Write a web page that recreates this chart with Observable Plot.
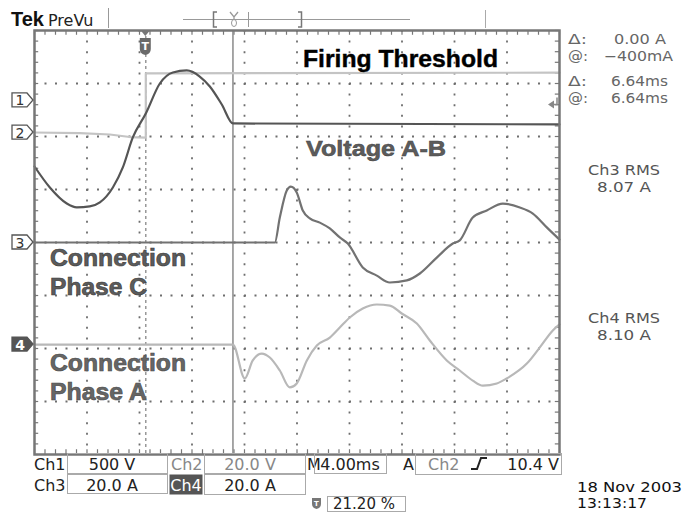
<!DOCTYPE html>
<html><head><meta charset="utf-8">
<script src="https://cdn.jsdelivr.net/npm/d3@7"></script>
<script src="https://cdn.jsdelivr.net/npm/@observablehq/plot@0.6"></script>
<style>
html,body{margin:0;padding:0;background:#fff;}
#chart{width:695px;height:512px;overflow:hidden;}
svg{display:block}
</style></head><body><div id="chart"></div>
<script>
// Time axis: ms relative to trigger (4 ms/div, trigger at 21.20 %)
const timeStart = -8.48, timeEnd = 31.52, msPerDiv = 4, cursorTime = 6.64;

// Ch1 – Voltage A-B (V)
const ch1Time  = [-8.48,-7.31,-6.02,-5.26,-4.27,-3.50,-2.51,-1.75,-0.99,0,1.07,2.06,3.12,4.11,4.88,5.79,6.64,31.52];
const ch1Volts = [-623,-821,-972,-1009,-1000,-962,-821,-632,-349,-123,160,264,283,226,132,-38,-217,-226];

// Ch2 – Firing threshold (V)
const ch2Time  = [-8.48,-5.03,-2.74,-1.22,0,0,31.52];
const ch2Volts = [0,-0.2,-0.75,-1.7,-1.9,22.3,22.6];

// Ch3 – Connection phase C (A)
const ch3Time = [-8.48,9.83,10.21,10.74,11.05,11.50,11.96,12.50,13.26,14.02,14.78,15.39,16.53,17.60,18.59,19.89,20.88,22.17,23.39,23.92,24.91,25.98,27.20,28.50,29.49,30.55,31.52];
const ch3Amps = [0,0,9.4,19.6,21.1,18.9,12.1,9.1,7.5,5.3,1.9,-0.4,-9.4,-12.5,-15.1,-14.3,-11.7,-5.7,-0.4,0.8,9.4,12.1,14.7,13.2,10.9,5.7,1.1];

// Ch4 – Connection phase A (A)
const ch4Time = [-8.48,6.64,7.54,8.15,8.84,9.45,10.21,10.97,11.50,12.27,13.03,14.02,14.78,15.54,16.53,17.60,18.59,19.50,20.65,21.64,22.93,23.92,24.91,25.68,26.74,27.50,29.03,30.02,31.01,31.52];
const ch4Amps = [0,0,-12.8,-6.0,-3.4,-4.9,-9.8,-16.2,-14.7,-6.0,-0.4,2.6,6.4,10.2,13.6,15.1,14.7,11.7,7.9,1.5,-6.0,-9.8,-13.6,-15.5,-14.7,-12.8,-7.2,-1.1,5.3,7.6];

// Channel settings
const channelNames  = ["1","2","3","4"];
const channelPerDiv = [500, 20, 20, 20];        // units / division
const channelOffset = [2.68, 2.075, 0, -1.925];  // ground position (divisions)
const triggerLevel = 10.4; // V on Ch2

const series = [[ch1Time,ch1Volts],[ch2Time,ch2Volts],[ch3Time,ch3Amps],[ch4Time,ch4Amps]];
const rows = series.map(([t,v],i)=>t.map((tt,k)=>({ch:i, t:tt, d:channelOffset[i]+v[k]/channelPerDiv[i]})));

const vGrid = d3.range(1,10).map(k=>timeStart+k*msPerDiv);
const hGrid = d3.range(-3,4);
const minorX = d3.range(0,51).map(k=>timeStart+k*msPerDiv/5);
const minorY = d3.range(0,41).map(k=>-4+k*0.2);

const chart = Plot.plot({
  width:695, height:512,
  marginLeft:34, marginRight:136, marginTop:30, marginBottom:58,
  x:{domain:[timeStart,timeEnd], axis:null},
  y:{domain:[-4,4], axis:null},
  marks:[
    Plot.ruleY(hGrid,{stroke:"#6e6e6e",strokeWidth:1.8,strokeDasharray:"2,8.5"}),
    Plot.ruleX(vGrid,{stroke:"#6e6e6e",strokeWidth:1.8,strokeDasharray:"2,8.6"}),
    Plot.ruleX(minorX,{y1:4,y2:3.91,stroke:"#777",strokeWidth:1.2}),
    Plot.ruleX(minorX,{y1:-4,y2:-3.91,stroke:"#777",strokeWidth:1.2}),
    Plot.ruleY(minorY,{x1:timeStart,x2:timeStart+0.32,stroke:"#777",strokeWidth:1.2}),
    Plot.ruleY(minorY,{x1:timeEnd-0.32,x2:timeEnd,stroke:"#777",strokeWidth:1.2}),
    Plot.ruleX([0],{stroke:"#888",strokeWidth:1.3,strokeDasharray:"3,3"}),
    Plot.ruleX([cursorTime],{stroke:"#8a8a8a",strokeWidth:1.5}),
    Plot.line(rows[1],{x:"t",y:"d",stroke:"#c4c4c4",strokeWidth:2.2}),
    Plot.line(rows[3],{x:"t",y:"d",stroke:"#b8b8b8",strokeWidth:2.2,curve:"monotone-x"}),
    Plot.line(rows[2],{x:"t",y:"d",stroke:"#727272",strokeWidth:2.2,curve:"monotone-x"}),
    Plot.line(rows[0],{x:"t",y:"d",stroke:"#555",strokeWidth:2.2,curve:"monotone-x"}),
    Plot.frame({stroke:"#777",strokeWidth:2.5})
  ]
});
document.getElementById("chart").appendChild(chart);

const xs = chart.scale("x"), ys = chart.scale("y");
const svg = d3.select(chart);
const ann = svg.append("g");
function T(x,y,s,o={}){
  const e = ann.append("text").attr("x",x).attr("y",y).text(s)
    .attr("font-family",o.family||"DejaVu Sans").attr("font-size",o.size||16)
    .attr("fill",o.fill||"#222").attr("text-anchor",o.anchor||"start")
    .attr("font-weight",o.weight||"normal");
  if(o.len) e.attr("textLength",o.len).attr("lengthAdjust","spacingAndGlyphs");
  if(o.stroke) e.attr("stroke",o.stroke).attr("stroke-width",o.sw||0.6);
  return e;
}
function P(d,o={}){ return ann.append("path").attr("d",d).attr("fill",o.fill||"none").attr("stroke",o.stroke||"none").attr("stroke-width",o.sw||1); }
function R(x,y,w,h,o={}){ return ann.append("rect").attr("x",x).attr("y",y).attr("width",w).attr("height",h).attr("fill",o.fill||"none").attr("stroke",o.stroke||"#aaa").attr("stroke-width",o.sw||1); }

// header
T(11,26,"Tek",{family:"Liberation Sans",weight:"bold",size:20,fill:"#111"});
T(48,26,"PreVu",{size:16,fill:"#222"});
P("M108.5,8V28",{stroke:"#999"});
P("M183,19.5H410",{stroke:"#999"});
P("M217,12H213.5V27H217",{stroke:"#777",sw:1.5});
P("M298,12H301.5V27H298",{stroke:"#777",sw:1.5});
P("M248.5,12V27",{stroke:"#999"});
P("M230,12L234,17L238,12M234,17V20",{stroke:"#999",sw:1.3});
ann.append("ellipse").attr("cx",234).attr("cy",23).attr("rx",2.5).attr("ry",3.5).attr("fill","none").attr("stroke","#999");
P("M485.5,10V28",{stroke:"#aaa"});

// trigger marker
const xt = xs.apply(0);
P(`M${xt-5},30L${xt+5},30L${xt},36Z`,{fill:"#777"});
P(`M${xt-5.5},38H${xt+5.5}V49Q${xt+5.5},54 ${xt},55Q${xt-5.5},54 ${xt-5.5},49Z`,{fill:"#6a6a6a"});
T(xt,50,"T",{anchor:"middle",size:11,weight:"bold",fill:"#fff"});

// trigger level arrow
const yl = ys.apply(channelOffset[1]+triggerLevel/channelPerDiv[1]);
P(`M548,${yl}L554,${yl-4}L554,${yl+4}Z`,{fill:"#888"});
P(`M554,${yl}H557V${yl-7}`,{stroke:"#888",sw:1.5});

// channel markers
channelNames.forEach((n,i)=>{
  const y = ys.apply(channelOffset[i]);
  const dark = i===3;
  P(`M12,${y-7}H27L33,${y}L27,${y+7}H12Z`,{fill:dark?"#555":"#fff",stroke:"#555",sw:1.3});
  T(20,y+5.5,n,{anchor:"middle",size:14,fill:dark?"#fff":"#333",weight:dark?"bold":"normal"});
});

// waveform labels
T(303,67,"Firing Threshold",{family:"Liberation Sans",weight:"bold",size:24,fill:"#000",len:195,stroke:"#000",sw:0.4});
T(306,156,"Voltage A-B",{family:"Liberation Sans",weight:"bold",size:22,fill:"#5c5c5c",len:140,stroke:"#444",sw:0.5});
T(50,266,"Connection",{family:"Liberation Sans",weight:"bold",size:23,fill:"#5c5c5c",len:136,stroke:"#3a3a3a",sw:0.6});
T(50,295,"Phase C",{family:"Liberation Sans",weight:"bold",size:23,fill:"#5c5c5c",len:97,stroke:"#3a3a3a",sw:0.6});
T(50,371,"Connection",{family:"Liberation Sans",weight:"bold",size:23,fill:"#666",len:136,stroke:"#4a4a4a",sw:0.6});
T(50,400,"Phase A",{family:"Liberation Sans",weight:"bold",size:23,fill:"#666",len:97,stroke:"#4a4a4a",sw:0.6});

// right readouts
const ro = {fill:"#666", size:14};
T(568,44,"Δ:",{...ro,len:19}); T(614,44,"0.00 A",{...ro,len:52});
T(568,61,"@:",{...ro,len:20}); T(604,61,"−400mA",{...ro,len:69});
T(568,86,"Δ:",{...ro,len:19}); T(611,86,"6.64ms",{...ro,len:57});
T(568,103,"@:",{...ro,len:20}); T(611,103,"6.64ms",{...ro,len:57});
const rm = {anchor:"middle",fill:"#555",size:14.5};
T(624,175,"Ch3 RMS",{...rm,len:72});
T(624,192,"8.07 A",{...rm,len:54});
T(624,323,"Ch4 RMS",{...rm,len:72});
T(624,340,"8.10 A",{...rm,len:54});

// bottom settings
T(34,470,"Ch1"); R(67.5,453.5,100,20); T(112,470,"500 V",{anchor:"middle"});
T(171,470,"Ch2",{fill:"#888"}); R(204.5,453.5,101,20); T(250,470,"20.0 V",{anchor:"middle",fill:"#888"});
T(307,470,"M"); R(314.5,453.5,72,20); T(350,470,"4.00ms",{anchor:"middle"});
T(403,470,"A"); R(415.5,453.5,146,21);
T(428,470,"Ch2",{fill:"#888"});
P("M471,469H477L481,458H487",{stroke:"#222",sw:2});
T(559,470,"10.4 V",{anchor:"end"});
T(34,491,"Ch3"); R(67.5,474.5,100,19); T(112,491,"20.0 A",{anchor:"middle"});
R(170,475,32,19,{fill:"#555",stroke:"#555"}); T(186,491,"Ch4",{anchor:"middle",fill:"#fff"});
R(204.5,474.5,101,20); T(250,491,"20.0 A",{anchor:"middle"});
P("M312,498H321V504Q321,508 316.5,509Q312,508 312,504Z",{fill:"#777"});
T(316.5,506,"T",{anchor:"middle",size:7,weight:"bold",fill:"#fff"});
R(327.5,496.5,78,15); T(333,509,"21.20 %",{size:15});
T(577,492,"18 Nov 2003",{fill:"#111",size:13.5,len:105});
T(577,508,"13:13:17",{fill:"#111",size:13.5,len:70});
</script></body></html>
